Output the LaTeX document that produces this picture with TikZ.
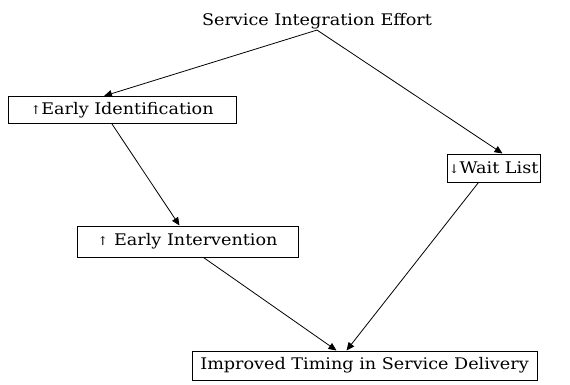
\documentclass[tikz,border=0pt]{standalone}
\usepackage{fontspec}
\setmainfont[FakeStretch = 1.1]{DejaVu Serif}
\usetikzlibrary{arrows.meta,calc}
\newcommand{\smallarr}[1]{{\fontsize{12}{14}\selectfont #1}}

\begin{document}
\begin{tikzpicture}[x = 1pt, y = 1pt, >={Triangle[length=8pt, width=7pt]}]
    \tikzset{box/.style = {draw, line width = 1pt, inner sep = 0pt, font = \fontsize{16}{18}\selectfont}}
    \useasboundingbox (0,0) rectangle (570,384);
    \node[font = \fontsize{16}{18}\selectfont, inner sep = 1pt] (sie) at (317,363) {Service Integration Effort};
    \node[box, minimum width = 228pt, minimum height = 27pt] (ident) at (122,274) {\smallarr{↑}Early Identification};
    \node[box, minimum width = 93pt, minimum height = 28pt] (wait) at (493.5,216) {\smallarr{↓}Wait List};
    \node[box, minimum width = 221pt, minimum height = 31pt] (interv) at (187.5,142.5) {\smallarr{↑} Early Intervention};
    \node[box, minimum width = 345pt, minimum height = 29pt] (timing) at (364.5,18.5) {Improved Timing in Service Delivery};
        % Arrows
    \draw[->, line width = .8pt] (sie.south) -- ([xshift = -18pt]ident.north);
    \draw[->, line width = .8pt] (sie.south) -- ([xshift = 9pt]wait.north);
    \draw[->, line width = .8pt] ([xshift = -10pt]ident.south) -- ([xshift = -8pt]interv.north);
    \draw[->, line width = .8pt] ([xshift = 16pt]interv.south) -- ([xshift = -28pt]timing.north);
    \draw[->, line width = .8pt] ([xshift = -15pt]wait.south) -- ([xshift = -18pt]timing.north);
  \end{tikzpicture}
\end{document}
